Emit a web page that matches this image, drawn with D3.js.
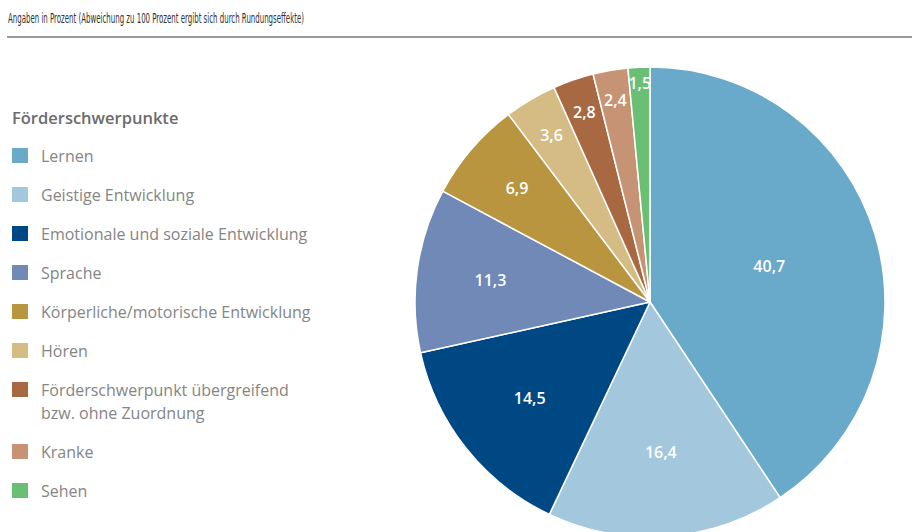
<!DOCTYPE html>
<html>
<head>
<meta charset="utf-8">
<script src="https://cdn.jsdelivr.net/npm/d3@7"></script>
<style>
  body { margin: 0; background: #fff; }
  svg { display: block; font-family: "Open Sans", "Noto Sans", sans-serif; }
</style>
</head>
<body>
<svg id="chart" width="912" height="532"></svg>
<script>
// Data
var note = 'Angaben in Prozent (Abweichung zu 100 Prozent ergibt sich durch Rundungseffekte)';
var legendTitle = 'Förderschwerpunkte';
var categories = ['Lernen', 'Geistige Entwicklung', 'Emotionale und soziale Entwicklung', 'Sprache',
    'Körperliche/motorische Entwicklung', 'Hören', 'Förderschwerpunkt übergreifend\nbzw. ohne Zuordnung',
    'Kranke', 'Sehen'];
var values = [40.7, 16.4, 14.5, 11.3, 6.9, 3.6, 2.8, 2.4, 1.5];
var colors = ['#69a9c9', '#a3c8dd', '#004884', '#7089b6', '#b9953f', '#d5bc84', '#a86942', '#c69474', '#6abf74'];

var svg = d3.select('#chart');
var de = d3.formatLocale({decimal: ',', thousands: '.', grouping: [3], currency: ['', '€']});
var fmt = de.format('.1f');

// Header
svg.append('text')
    .attr('x', 8).attr('y', 23)
    .attr('font-family', '"DejaVu Sans Condensed", "Liberation Sans Narrow", "Open Sans", sans-serif')
    .attr('font-size', 13.5)
    .attr('fill', '#333')
    .attr('textLength', 296)
    .attr('lengthAdjust', 'spacingAndGlyphs')
    .text(note);
svg.append('line')
    .attr('x1', 7).attr('x2', 912).attr('y1', 37).attr('y2', 37)
    .attr('stroke', '#9a9a9a').attr('stroke-width', 2);

// Legend
var legend = svg.append('g').attr('transform', 'translate(12,0)');
legend.append('text')
    .attr('x', 0).attr('y', 124)
    .attr('font-size', 16.5).attr('font-weight', 600)
    .attr('fill', '#6b6b6b')
    .text(legendTitle);

var y = 156;
categories.forEach(function(c, i) {
    var lines = c.split('\n');
    var item = legend.append('g').attr('transform', 'translate(0,' + y + ')');
    item.append('rect')
        .attr('x', 0).attr('y', -8).attr('width', 16).attr('height', 15)
        .attr('fill', colors[i]);
    var t = item.append('text')
        .attr('x', 29).attr('y', 5.5)
        .attr('font-size', 16)
        .attr('fill', '#858585');
    lines.forEach(function(l, j) {
        t.append('tspan').attr('x', 29).attr('dy', j === 0 ? 0 : 23).text(l);
    });
    y += 39 + 23 * (lines.length - 1);
});

// Pie
var cx = 650, cy = 302, R = 235;
var pieG = svg.append('g').attr('transform', 'translate(' + cx + ',' + cy + ')');
var pie = d3.pie().sort(null).value(function(d) { return d; });
var arcs = pie(values);
var arc = d3.arc().innerRadius(0).outerRadius(R);

pieG.selectAll('path.slice')
    .data(arcs).enter()
    .append('path')
    .attr('class', 'slice')
    .attr('d', arc)
    .attr('fill', function(d, i) { return colors[i]; })
    .attr('stroke', '#fff')
    .attr('stroke-width', 1.5)
    .attr('stroke-linejoin', 'round');

// labels: small slices sit closer to the rim
var labelR = d3.scaleLog().domain([1.5, 40.7]).range([0.93, 0.53]).clamp(true);
pieG.selectAll('text.lbl')
    .data(arcs).enter()
    .append('text')
    .attr('class', 'lbl')
    .attr('transform', function(d) {
        var a = (d.startAngle + d.endAngle) / 2;
        var r = R * labelR(d.value);
        return 'translate(' + [r * Math.sin(a), -r * Math.cos(a)] + ')';
    })
    .attr('text-anchor', 'middle')
    .attr('dy', '0.36em')
    .attr('font-size', 16)
    .attr('font-weight', 600)
    .attr('fill', '#fff')
    .text(function(d) { return fmt(d.value); });
</script>
</body>
</html>
